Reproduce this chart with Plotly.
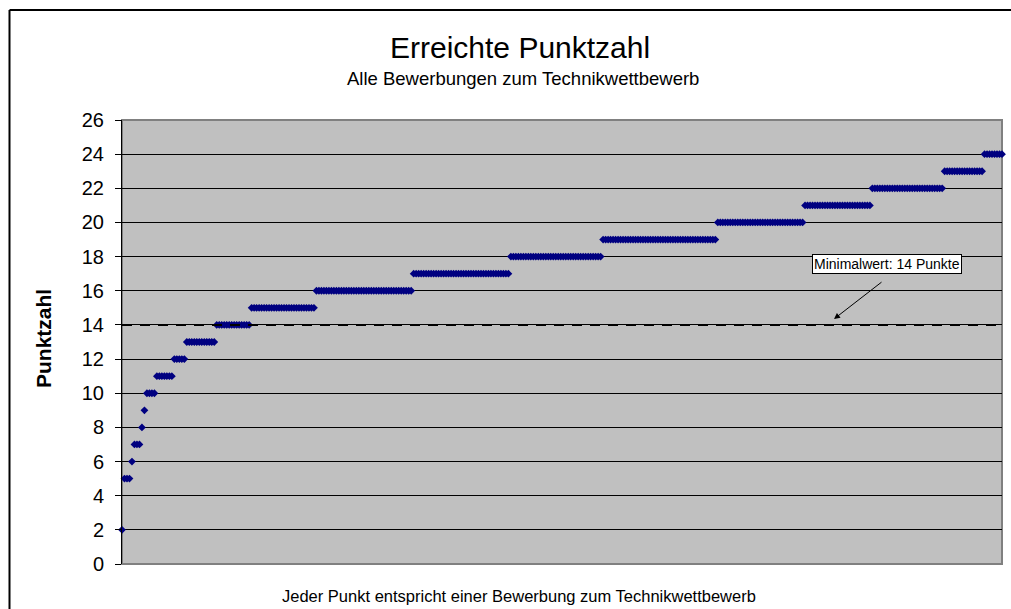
import plotly.graph_objects as go

# ---- data ----
score_levels = [2, 5, 6, 7, 8, 9, 10, 11, 12, 13, 14, 15, 16, 17, 18, 19, 20, 21, 22, 23, 24]
score_counts = [1, 3, 1, 3, 1, 1, 4, 7, 5, 12, 14, 26, 39, 39, 37, 46, 35, 27, 29, 16, 8]
min_score = 14
y_ticks = list(range(0, 27, 2))

title_text = "Erreichte Punktzahl"
subtitle_text = "Alle Bewerbungen zum Technikwettbewerb"
x_title = "Jeder Punkt entspricht einer Bewerbung zum Technikwettbewerb"
y_title = "Punktzahl"
note_text = "Minimalwert: 14 Punkte"

scores = []
for lvl, cnt in zip(score_levels, score_counts):
    scores.extend([lvl] * cnt)
idx = list(range(1, len(scores) + 1))

FONT = "Arial, Liberation Sans, sans-serif"

fig = go.Figure()
fig.add_trace(go.Scatter(
    x=idx, y=scores, mode="markers",
    marker=dict(symbol="diamond", size=6, color="#000080", line=dict(width=0)),
    cliponaxis=False, hoverinfo="x+y", showlegend=False,
))

W, H = 1011, 609
PL, PR, PT, PB = 122, 1002, 120, 564
L, T = PL, PT
R = W - PR
B = H - PB
pw = PR - PL
ph = PB - PT

def px_x(p):
    return (p - PL) / pw

def px_y(p):
    return (PB - p) / ph

fig.update_layout(
    width=W, height=H,
    margin=dict(l=L, r=R, t=T, b=B),
    paper_bgcolor="white",
    plot_bgcolor="#C0C0C0",
    font=dict(family=FONT, color="black"),
    xaxis=dict(range=[1, len(scores)], showgrid=False, showticklabels=False,
               ticks="", zeroline=False, showline=False, fixedrange=True),
    yaxis=dict(range=[0, 26], tickvals=y_ticks, showgrid=True, gridcolor="black",
               gridwidth=1, zeroline=False, showline=True, linecolor="black",
               linewidth=1, ticks="outside", ticklen=6, tickcolor="black",
               ticklabelstandoff=7,
               tickfont=dict(size=20, family=FONT), fixedrange=True),
    shapes=[
        dict(type="rect", xref="paper", yref="paper", x0=0, x1=1, y0=0, y1=1,
             line=dict(color="#808080", width=2), layer="below"),
        dict(type="line", xref="paper", yref="y", x0=0, x1=1, y0=min_score, y1=min_score,
             line=dict(color="black", width=2, dash="10px,8px"), layer="above"),
        # outer chart border: left and top edges only (others lie outside the picture)
        dict(type="line", xref="paper", yref="paper",
             x0=px_x(9.5), x1=px_x(9.5), y0=px_y(612), y1=px_y(10),
             line=dict(color="black", width=2), layer="above"),
        dict(type="line", xref="paper", yref="paper",
             x0=px_x(9.5), x1=px_x(1014), y0=px_y(10), y1=px_y(10),
             line=dict(color="black", width=2), layer="above"),
    ],
    annotations=[
        dict(text=title_text, xref="paper", yref="paper", x=px_x(520), y=px_y(47),
             showarrow=False, font=dict(size=30, family=FONT), xanchor="center", yanchor="middle"),
        dict(text=subtitle_text, xref="paper", yref="paper", x=px_x(523), y=px_y(79),
             showarrow=False, font=dict(size=18.5, family=FONT), xanchor="center", yanchor="middle"),
        dict(text=x_title, xref="paper", yref="paper", x=px_x(519), y=px_y(596),
             showarrow=False, font=dict(size=16.5, family=FONT), xanchor="center", yanchor="middle"),
        dict(text="<b>" + y_title + "</b>", xref="paper", yref="paper", x=px_x(43), y=px_y(339),
             showarrow=False, textangle=-90, font=dict(size=21, family=FONT),
             xanchor="center", yanchor="middle"),
        dict(text=note_text, xref="paper", yref="paper", x=px_x(887), y=px_y(264),
             showarrow=False, font=dict(size=14, family=FONT), bgcolor="white",
             bordercolor="black", borderwidth=1, borderpad=1,
             xanchor="center", yanchor="middle"),
        dict(text="", xref="paper", yref="paper", x=px_x(834), y=px_y(319),
             ax=49, ay=-38, showarrow=True, arrowhead=2, arrowsize=1.2,
             arrowwidth=1, arrowcolor="black"),
    ],
)

fig.write_html("out.html",
               config={"displayModeBar": False, "staticPlot": True},
               post_script="document.body.style.margin='0';document.body.style.overflow='hidden';")
